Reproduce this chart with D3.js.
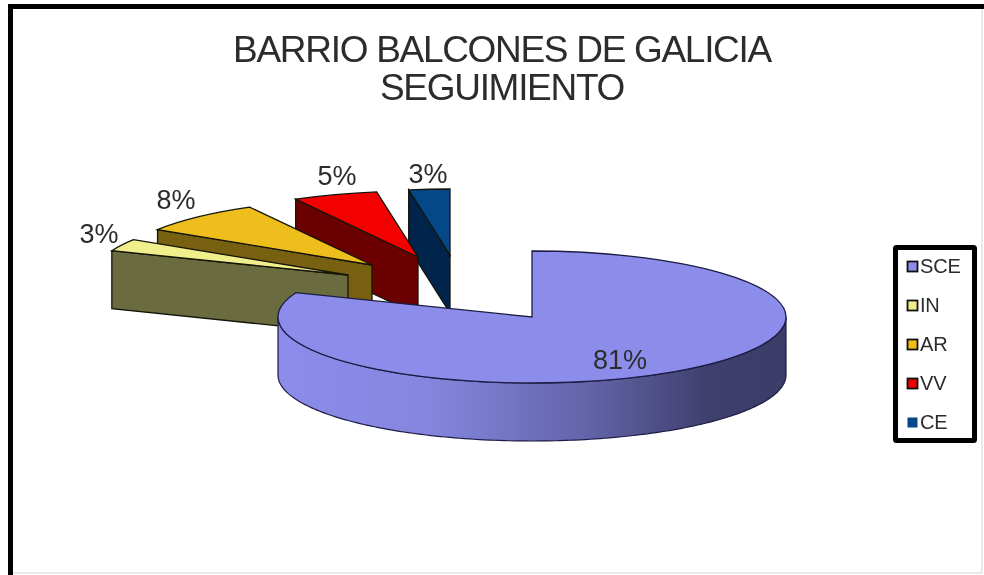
<!DOCTYPE html>
<html>
<head>
<meta charset="utf-8">
<script src="https://cdn.jsdelivr.net/npm/d3@7"></script>
<style>
	html, body { margin: 0; padding: 0; background: #fff; }
	svg { display: block; filter: blur(0.45px); }
	text { font-family: "Liberation Sans", Arial, sans-serif; fill: #2c2c2c; }
</style>
</head>
<body>
<div id="chart"></div>
<script>
// data
var categories = ["SCE", "IN", "AR", "VV", "CE"];
var values = [81, 3, 8, 5.4, 2.6];
var titleLines = ["BARRIO BALCONES DE GALICIA", "SEGUIMIENTO"];

// colours per slice: top face, side face
var topColors = ["#8c8ceb", "#f1ef8c", "#eebf1c", "#f50000", "#04488a"];
var sideColors = ["#8c8ceb", "#6b6b40", "#776010", "#6a0000", "#00244c"];

var width = 984,
	height = 575,
	rx = 254,
	ry = 66,
	depth = 58;

// where the centre of every slice sits, slices are pulled out by hand in the original
var centers = [[532, 317], [348, 275], [372, 265], [418, 257], [450, 255]];

var svg = d3.select("#chart").append("svg")
	.attr("width", width)
	.attr("height", height);

// frame, black on top and left, faint grey on the other two sides
svg.append("path")
	.attr("d", "M13,573H982V9")
	.attr("fill", "none")
	.attr("stroke", "#e2e2e2")
	.attr("stroke-width", 1.5);
svg.append("path")
	.attr("d", "M10.5,580V6.5H1000")
	.attr("fill", "none")
	.attr("stroke", "#000")
	.attr("stroke-width", 5);

// horizontal shading of the round wall
var grad = svg.append("defs").append("linearGradient")
	.attr("id", "wall")
	.attr("x1", "0%").attr("x2", "100%")
	.attr("y1", "0%").attr("y2", "0%");
grad.append("stop").attr("offset", "0%").attr("stop-color", "#8c8ceb");
grad.append("stop").attr("offset", "30%").attr("stop-color", "#8486de");
grad.append("stop").attr("offset", "60%").attr("stop-color", "#6465aa");
grad.append("stop").attr("offset", "85%").attr("stop-color", "#3f3f6d");
grad.append("stop").attr("offset", "100%").attr("stop-color", "#3c3c68");

var pie = d3.pie().sort(null).value(function(d) { return d; });
var slices = pie(values);
var arc = d3.arc().innerRadius(0).outerRadius(rx);
var percent = d3.format(".0%");

// point on the rim of the ellipse, angle clockwise from the top
function rim(c, a) {
	return [c[0] + rx * Math.sin(a), c[1] - ry * Math.cos(a)];
}

// back to front, so the big slice covers the others
var order = [4, 3, 2, 1, 0];
var line = d3.line();

order.forEach(function(i) {
	var s = slices[i],
		c = centers[i],
		g = svg.append("g");

	if (i === 0) {
		// round wall, right end of the ellipse to the left end
		var a = d3.range(Math.PI / 2, 3 * Math.PI / 2 + 0.001, 0.02);
		var upper = a.map(function(t) { return rim(c, t); });
		var lower = a.map(function(t) { var p = rim(c, t); return [p[0], p[1] + depth]; }).reverse();
		g.append("path")
			.attr("d", line(upper.concat(lower)) + "Z")
			.attr("fill", "url(#wall)")
			.attr("stroke", "#1c1c44")
			.attr("stroke-width", 1.2);
	} else {
		// flat cut face from the rim to the centre
		var p = rim(c, s.startAngle);
		g.append("path")
			.attr("d", line([p, c, [c[0], c[1] + depth], [p[0], p[1] + depth]]) + "Z")
			.attr("fill", sideColors[i])
			.attr("stroke", "#14140a")
			.attr("stroke-width", 1.3);
	}

	g.append("path")
		.attr("d", arc(s))
		.attr("transform", "translate(" + c[0] + "," + c[1] + ") scale(1," + (ry / rx) + ")")
		.attr("fill", topColors[i])
		.attr("stroke", i === 0 ? "#1c1c44" : "#14140a")
		.attr("stroke-width", 1.3)
		.attr("vector-effect", "non-scaling-stroke");
});

// percent labels
var labelPos = [[620, 369], [99, 243], [176, 209], [337, 185], [428, 183]];
categories.forEach(function(d, i) {
	svg.append("text")
		.attr("x", labelPos[i][0])
		.attr("y", labelPos[i][1])
		.attr("text-anchor", "middle")
		.attr("font-size", 27)
		.text(percent(values[i] / 100));
});

// title
svg.selectAll(".title")
	.data(titleLines)
	.enter().append("text")
	.attr("class", "title")
	.attr("x", 502)
	.attr("y", function(d, i) { return 62 + i * 38; })
	.attr("text-anchor", "middle")
	.attr("font-size", 37)
	.attr("letter-spacing", -1.3)
	.text(function(d) { return d; });

// legend
var legendY = d3.scalePoint().domain(categories).range([266, 422]);
var legend = svg.append("g");

legend.append("rect")
	.attr("x", 895.5).attr("y", 247.5)
	.attr("width", 79).attr("height", 193)
	.attr("fill", "#fff")
	.attr("stroke", "#000")
	.attr("stroke-width", 5)
	.attr("rx", 1);

categories.forEach(function(d, i) {
	legend.append("rect")
		.attr("x", 907.5)
		.attr("y", legendY(d) - 4.5)
		.attr("width", 10)
		.attr("height", 10)
		.attr("fill", topColors[i])
		.attr("stroke", i === 4 ? "none" : "#111")
		.attr("stroke-width", 1.8);
	legend.append("text")
		.attr("x", 920)
		.attr("y", legendY(d) + 7)
		.attr("font-size", 20)
		.attr("letter-spacing", -0.2)
		.text(d);
});
</script>
</body>
</html>
